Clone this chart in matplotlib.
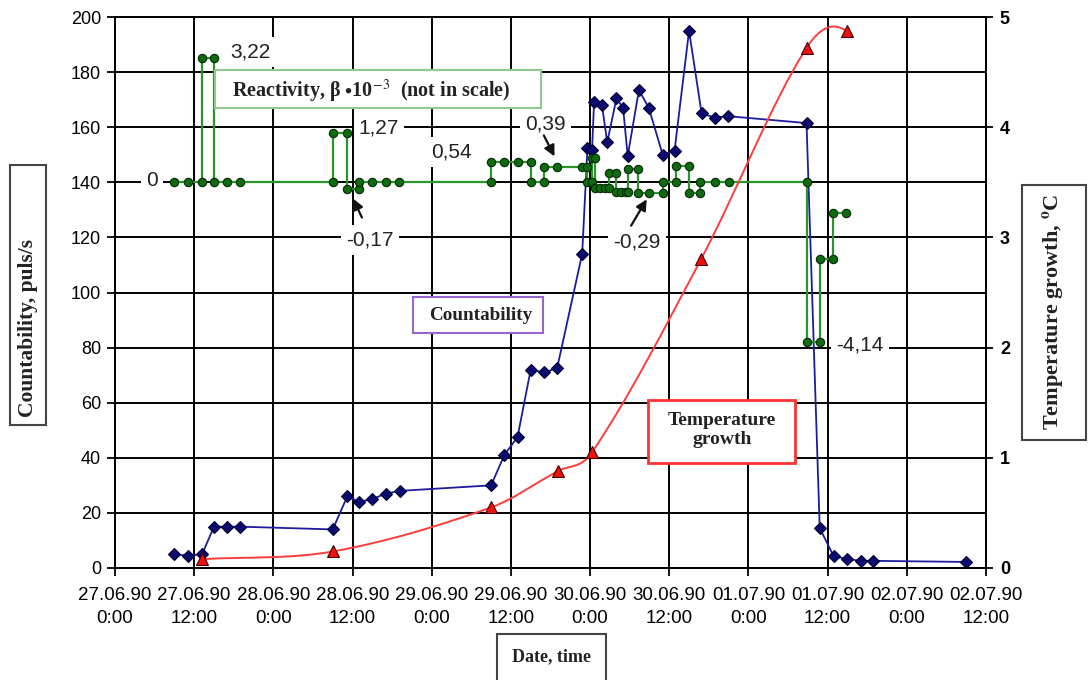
import matplotlib
matplotlib.use("Agg")
import matplotlib.pyplot as plt
from matplotlib.path import Path
from matplotlib.patches import PathPatch, Rectangle
import numpy as np

plt.rcParams['font.family'] = ['Liberation Sans Narrow', 'Liberation Sans', 'DejaVu Sans']
plt.rcParams['mathtext.fontset'] = 'stix'

# ---- data (time in hours from 27.06.90 0:00) ----
tick_hours = list(range(0, 133, 12))
tick_labels = ["27.06.90\n0:00", "27.06.90\n12:00", "28.06.90\n0:00", "28.06.90\n12:00",
               "29.06.90\n0:00", "29.06.90\n12:00", "30.06.90\n0:00", "30.06.90\n12:00",
               "01.07.90\n0:00", "01.07.90\n12:00", "02.07.90\n0:00", "02.07.90\n12:00"]

count_t = [9, 11, 13.2, 15, 17, 19, 33, 35.2, 37, 39, 41, 43.2, 57, 59, 61, 63, 65, 67,
           70.8, 71.6, 72.3, 72.6, 73.8, 74.6, 76, 77, 77.7, 79.4, 80.9, 83, 84.8, 87,
           88.9, 90.9, 92.9, 104.8, 106.8, 108.9, 110.9, 113, 114.8, 128.9]
count_v = [5, 4.5, 5, 15, 15, 15, 14, 26, 24, 25, 27, 28, 30, 41, 47.5, 72, 71, 72.5,
           114, 152.5, 151.7, 169, 168, 154.5, 170.5, 167, 149.5, 173.5, 167, 150, 151.5, 195,
           165, 163.5, 164, 161.5, 14.5, 4.3, 3.3, 2.6, 2.6, 2.2]

react_t = [9, 11, 13.2, 13.2, 15, 15, 17, 19,
           33, 33, 35.2, 35.2, 37, 37, 39, 41, 43,
           57, 57, 59, 61, 63, 63, 65, 65, 67, 70.8, 71.5, 71.5, 72.3, 72.3, 72.7, 72.7,
           73.5, 74.2, 74.8, 74.8, 76, 76, 76.7, 77.4, 77.7, 77.7, 79.2, 79.2, 81, 83,
           83, 85, 85, 87, 87, 88.7, 88.7, 91, 93,
           104.8, 104.8, 106.8, 106.8, 108.8, 108.8, 110.8]
react_v = [140, 140, 140, 185, 185, 140, 140, 140,
           140, 158, 158, 137.5, 137.5, 140, 140, 140, 140,
           140, 147.5, 147.5, 147.5, 147.5, 140, 140, 145.5, 145.5, 145.5, 145.5, 140, 140, 149, 149, 138,
           138, 138, 138, 143.3, 143.3, 136.5, 136.5, 136.5, 136.5, 145, 145, 136, 136, 136,
           140, 140, 146, 146, 136, 136, 140, 140, 140,
           140, 82, 82, 112, 112, 129, 129]

temp_t = [13.2, 33, 57, 67.1, 72.3, 88.8, 104.8, 110.9]
temp_v = [0.08, 0.15, 0.55, 0.88, 1.05, 2.8, 4.72, 4.87]

# reactivity values written next to the steps: (text, x, y)
react_labels = [("0", 5.6, 140.5), ("3,22", 20.5, 187.3), ("1,27", 40.0, 159.7),
                ("0,54", 51.0, 151.0), ("0,39", 65.2, 161.2), ("-0,17", 38.6, 119.0),
                ("-0,29", 79.1, 118.3), ("-4,14", 112.9, 81.0)]
# arrows: (tail x, tail y, head x, head y)
react_arrows = [(37.6, 126.3, 35.9, 135.0), (64.8, 157.9, 66.8, 148.5), (78.0, 123.4, 80.8, 134.7)]

W, H = 1089, 680
fig = plt.figure(figsize=(W / 100, H / 100), dpi=100)
fig.patch.set_facecolor("white")

ax = fig.add_axes([115 / W, 112 / H, 871 / W, 551 / H])
ax.set_xlim(0, 132)
ax.set_ylim(0, 200)
ax.set_xticks(tick_hours)
ax.set_xticklabels(tick_labels, fontsize=13.5, linespacing=1.4)
ax.set_yticks(range(0, 201, 20))
ax.tick_params(axis='y', labelsize=13, length=6, width=1.3, direction='out', pad=4)
ax.tick_params(axis='x', length=6, width=1.3, direction='out', pad=8)
ax.grid(True, color='black', linewidth=1.4)
ax.set_axisbelow(True)
for s in ax.spines.values():
    s.set_color('black')
    s.set_linewidth(1.4)

# countability
ax.plot(count_t, count_v, color='#1c1c9c', linewidth=1.3, marker='D', markersize=6.5,
        markerfacecolor='#0b0b70', markeredgecolor='#000033', markeredgewidth=0.8, zorder=4)

# reactivity steps
ax.plot(react_t, react_v, color='#2a962a', linewidth=1.6, marker='o', markersize=6,
        markerfacecolor='#0f6b0f', markeredgecolor='#002a00', markeredgewidth=0.8, zorder=5)

for txt, x, y in react_labels:
    ax.text(x, y, txt, fontsize=15, ha='center', va='center', color='#222222', zorder=3,
            bbox=dict(boxstyle='square,pad=0.25', facecolor='white', edgecolor='none'))
for x0, y0, x1, y1 in react_arrows:
    ax.annotate("", xy=(x1, y1), xytext=(x0, y0), zorder=6,
                arrowprops=dict(arrowstyle='-|>', color='#111111', lw=1.6, mutation_scale=16))

# temperature on the right axis
ax2 = ax.twinx()
ax2.set_ylim(0, 5)
ax2.set_xlim(0, 132)
ax2.set_yticks(range(0, 6))
ax2.set_yticklabels([str(i) for i in range(6)], fontsize=13, fontweight='bold')
ax2.tick_params(axis='y', length=5, width=1.3, direction='out', pad=5)
for s in ax2.spines.values():
    s.set_color('black')
    s.set_linewidth(1.4)

# smooth line through the temperature points: cubic Hermite segments in x
tx = np.asarray(temp_t, float)
ty = np.asarray(temp_v, float)
n = len(tx)
sec = np.diff(ty) / np.diff(tx)
m = np.empty(n)
m[1:-1] = (ty[2:] - ty[:-2]) / (tx[2:] - tx[:-2])
m[0] = sec[0]
m[-1] = 2 * sec[-1] - m[-2]
verts = [(tx[0], ty[0])]
codes = [Path.MOVETO]
for i in range(n - 1):
    h = tx[i + 1] - tx[i]
    verts += [(tx[i] + h / 3, ty[i] + m[i] * h / 3),
              (tx[i + 1] - h / 3, ty[i + 1] - m[i + 1] * h / 3),
              (tx[i + 1], ty[i + 1])]
    codes += [Path.CURVE4] * 3
ax2.add_patch(PathPatch(Path(verts, codes), facecolor='none', edgecolor='#ff3c3c',
                        linewidth=1.4, zorder=3))
ax2.plot(temp_t, temp_v, linestyle='none', marker='^', markersize=8,
         markerfacecolor='#ee1111', markeredgecolor='#400000', markeredgewidth=0.8, zorder=4)


def box(x0, y0, x1, y1, edge, lw=1.5):
    fig.patches.append(Rectangle((x0 / W, 1 - y1 / H), (x1 - x0) / W, (y1 - y0) / H,
                                 transform=fig.transFigure, facecolor='white',
                                 edgecolor=edge, linewidth=lw, zorder=5))


def ftext(x, y, s, **kw):
    fig.text(x / W, 1 - y / H, s, ha='center', va='center', zorder=6,
             family=['Liberation Serif', 'DejaVu Serif'], fontweight='bold', **kw)


box(215, 70, 541, 108, '#8fc98f')
fig.text(232 / W, 1 - 91 / H, r"Reactivity, β $\bullet$10$^{-3}$  (not in scale)",
         ha='left', va='center', zorder=6, family=['Liberation Serif', 'DejaVu Serif'],
         fontweight='bold', fontsize=14.5, color='#222222')

box(413, 297, 543, 333, '#9966cc')
ftext(481, 316, "Countability", fontsize=13.8, color='#222222')

box(648, 400, 795, 463, '#ff3333', lw=2)
ftext(722, 430, "Temperature\ngrowth", fontsize=14, color='#222222', linespacing=1.2)

box(10, 165, 46, 425, '#444444')
ftext(28, 328, "Countability, puls/s", fontsize=15.5, rotation=90, color='#222222')

box(1022, 185, 1086, 440, '#444444')
ftext(1053, 312, r"Temperature growth, $^{\mathbf{o}}$C", fontsize=16, rotation=90,
      color='#222222')

box(497, 634, 606, 700, '#444444')
ftext(551, 657, "Date, time", fontsize=13, color='#222222')

fig.savefig("out.png", dpi=100)
